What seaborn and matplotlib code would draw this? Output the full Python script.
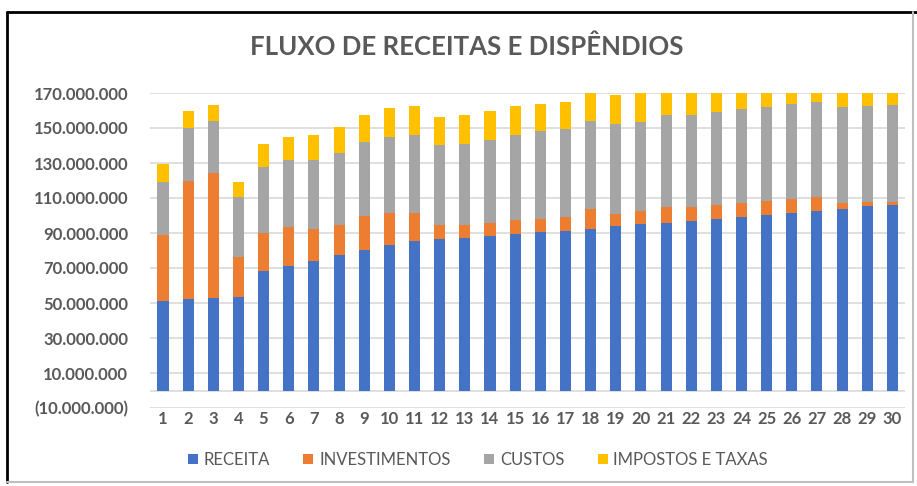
import matplotlib
matplotlib.use("Agg")
import matplotlib.pyplot as plt
import numpy as np
import pandas as pd
import seaborn as sns
from matplotlib.patches import Patch
from matplotlib.lines import Line2D
from matplotlib.ticker import FuncFormatter

# valores em milhões
periodos = list(range(1, 31))
receita = [51.3, 52.5, 53.0, 53.6, 68.1, 71.3, 74.2, 77.2, 80.3, 83.0,
           85.2, 86.4, 87.0, 88.1, 89.2, 90.6, 91.3, 92.5, 93.8, 95.0,
           95.9, 96.7, 98.0, 99.1, 100.3, 101.6, 102.8, 103.9, 105.2, 106.0]
investimentos = [37.4, 67.4, 71.3, 22.5, 21.9, 21.9, 18.3, 17.2, 19.6, 18.6,
                 16.4, 8.4, 7.4, 7.4, 8.0, 7.4, 7.8, 11.0, 7.2, 7.4,
                 9.1, 8.0, 7.8, 8.2, 7.8, 7.8, 8.0, 3.1, 2.5, 1.7]
custos = [30.3, 29.9, 29.7, 34.5, 37.5, 38.5, 39.2, 41.1, 42.1, 43.4,
          44.6, 45.3, 46.5, 47.8, 49.0, 50.1, 50.3, 50.7, 51.5, 51.0,
          52.2, 52.5, 53.2, 53.6, 54.1, 54.5, 54.2, 55.2, 55.1, 55.6]
impostos = [10.2, 9.7, 9.3, 8.4, 13.2, 13.3, 14.5, 14.9, 15.6, 16.2,
            16.4, 16.4, 16.3, 16.2, 16.4, 15.8, 15.7, 16.0, 16.2, 17.0,
            16.5, 16.6, 16.8, 17.0, 17.1, 17.3, 17.5, 17.6, 17.8, 18.0]

series = ["RECEITA", "INVESTIMENTOS", "CUSTOS", "IMPOSTOS E TAXAS"]
cores = ["#4472C4", "#ED7D31", "#A5A5A5", "#FFC000"]
texto = "#595959"

df = pd.DataFrame({
    "periodo": [str(p) for p in periodos],
    "RECEITA": np.array(receita) * 1e6,
    "INVESTIMENTOS": np.array(investimentos) * 1e6,
    "CUSTOS": np.array(custos) * 1e6,
    "IMPOSTOS E TAXAS": np.array(impostos) * 1e6,
})
acumulado = df[series].cumsum(axis=1)

sns.set_theme(style="white")
plt.rcParams["font.family"] = ["Lato", "DejaVu Sans"]

fig = plt.figure(figsize=(9.17, 4.86), dpi=100)
ax = fig.add_axes([150.4 / 917, 78 / 486, (905 - 150.4) / 917, (408 - 93) / 486])

# empilhamento: desenha do topo para a base
for nome, cor in reversed(list(zip(series, cores))):
    sns.barplot(x=df["periodo"], y=acumulado[nome], color=cor, width=0.44,
                saturation=1, edgecolor="none", ax=ax, zorder=3)

ax.set_ylim(-10e6, 170e6)
ax.set_xlim(-0.5, 29.5)
ax.set_yticks(np.arange(-10e6, 171e6, 20e6))


def fmt(v, pos):
    s = f"{abs(v):,.0f}".replace(",", ".")
    return f"({s})" if v < 0 else s


ax.yaxis.set_major_formatter(FuncFormatter(fmt))
ax.grid(axis="y", color="#D9D9D9", linewidth=1.2, zorder=0)
ax.axhline(0, color="#D9D9D9", linewidth=1.2, zorder=1)
for s in ax.spines.values():
    s.set_visible(False)
ax.set_xlabel("")
ax.set_ylabel("")
ax.tick_params(axis="both", length=0, labelsize=12, labelcolor=texto)
ax.tick_params(axis="x", pad=2)
ax.tick_params(axis="y", pad=16)
for lab in ax.get_xticklabels() + ax.get_yticklabels():
    lab.set_fontweight("bold")

fig.text(467 / 917, 1 - 47 / 486, "FLUXO DE RECEITAS E DISPÊNDIOS",
         ha="center", va="center", fontsize=18.5, fontweight="bold", color=texto)

handles = [Patch(facecolor=c, edgecolor="none") for c in cores]
leg = fig.legend(handles, series, loc="center", bbox_to_anchor=(478 / 917, 26 / 486),
                 ncol=4, frameon=False, fontsize=12, handlelength=0.6, handleheight=0.6,
                 handletextpad=0.35, columnspacing=2.0)
for t in leg.get_texts():
    t.set_color(texto)

# moldura do gráfico
fig.add_artist(Line2D([7 / 917, 7 / 917], [1 - 12 / 486, 1 - 482 / 486],
                      transform=fig.transFigure, color="black", linewidth=2))
fig.add_artist(Line2D([7 / 917, 1], [1 - 12 / 486, 1 - 12 / 486],
                      transform=fig.transFigure, color="black", linewidth=2))
fig.add_artist(Line2D([7 / 917, 913 / 917], [1 - 482 / 486, 1 - 482 / 486],
                      transform=fig.transFigure, color="#BFBFBF", linewidth=1.5))
fig.add_artist(Line2D([913 / 917, 913 / 917], [1 - 12 / 486, 1 - 482 / 486],
                      transform=fig.transFigure, color="#BFBFBF", linewidth=1.5))

fig.savefig("out.png", dpi=100)
